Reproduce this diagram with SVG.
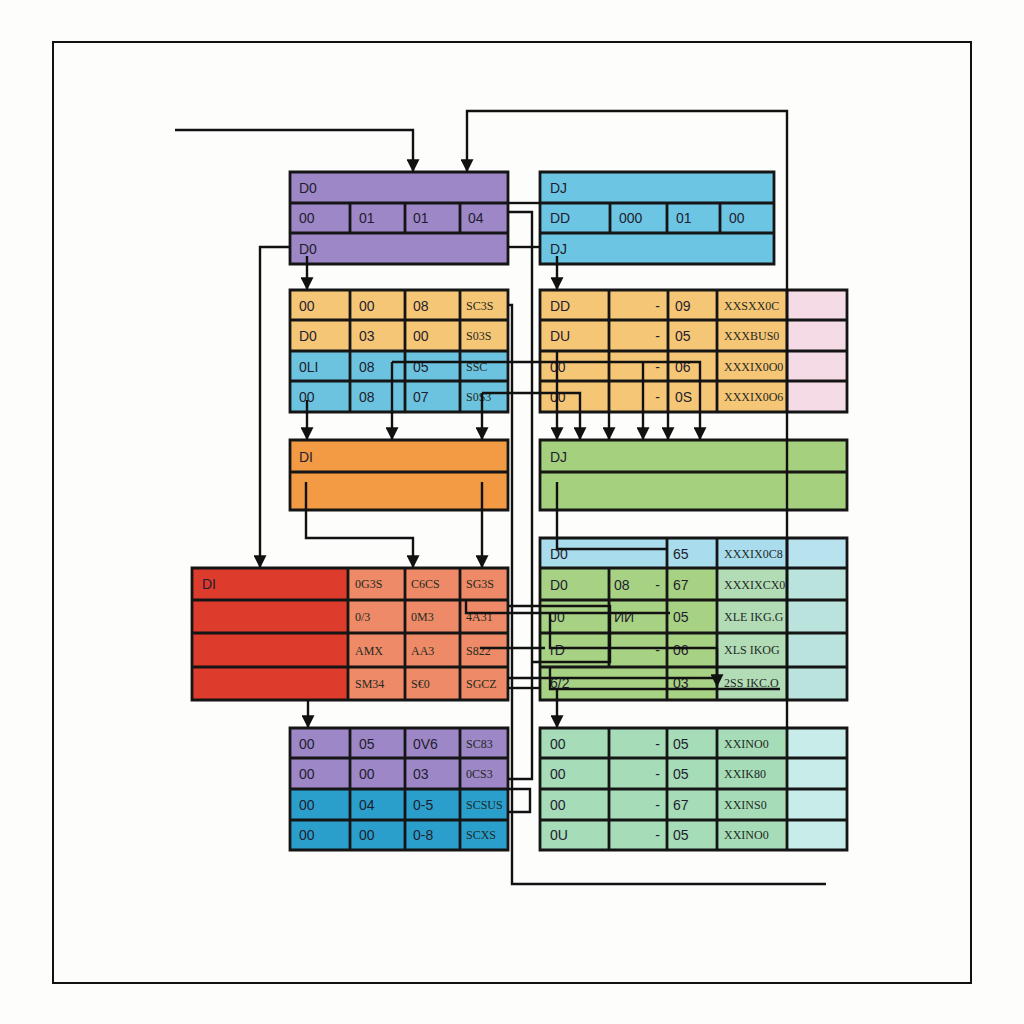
<svg xmlns="http://www.w3.org/2000/svg" width="1024" height="1024" viewBox="0 0 1024 1024">
<defs>
<style>
.g{stroke:#151515;stroke-width:2.8;fill:none}
.t{font-family:"Liberation Sans",Arial,sans-serif;font-size:14px;fill:#1f1d2e}
.s{font-family:"Liberation Serif","Times New Roman",serif;font-size:12px;fill:#1e2a1e}
.c{fill:none;stroke:#111;stroke-width:2.4}
.a{marker-end:url(#arr)}
</style>
<marker id="arr" viewBox="0 0 10 10" refX="9" refY="5" markerWidth="13" markerHeight="13" markerUnits="userSpaceOnUse" orient="auto">
<path d="M0,0 L10,5 L0,10 z" fill="#111"/>
</marker>
</defs>
<rect width="1024" height="1024" fill="#fdfdfc"/>
<rect x="53" y="42" width="918" height="941" fill="none" stroke="#111" stroke-width="2"/>

<g id="node-a">
<rect x="290" y="172" width="218" height="92" fill="#9d87c6"/>
<path class="g" d="M290,172H508V264H290Z M290,203H508 M290,233H508 M350,203V233 M405,203V233 M460,203V233"/>
<text class="t" x="299" y="193">D0</text>
<text class="t" x="299" y="223">00</text><text class="t" x="359" y="223">01</text><text class="t" x="413" y="223">01</text><text class="t" x="468" y="223">04</text>
<text class="t" x="299" y="254">D0</text>
</g>

<g id="node-b">
<rect x="540" y="172" width="234" height="92" fill="#6cc5e3"/>
<path class="g" d="M540,172H774V264H540Z M540,203H774 M540,233H774 M610,203V233 M667,203V233 M720,203V233"/>
<text class="t" x="550" y="193">DJ</text>
<text class="t" x="550" y="223">DD</text><text class="t" x="619" y="223">000</text><text class="t" x="676" y="223">01</text><text class="t" x="729" y="223">00</text>
<text class="t" x="550" y="254">DJ</text>
</g>

<g id="node-c">
<rect x="290" y="290" width="218" height="61" fill="#f6c677"/>
<rect x="290" y="351" width="218" height="61" fill="#6cc3df"/>
<path class="g" d="M290,290H508V412H290Z M290,320H508 M290,351H508 M290,381H508 M350,290V412 M405,290V412 M460,290V412"/>
<text class="t" x="299" y="311">00</text><text class="t" x="359" y="311">00</text><text class="t" x="413" y="311">08</text><text class="s" x="466" y="310">SC3S</text>
<text class="t" x="299" y="341">D0</text><text class="t" x="359" y="341">03</text><text class="t" x="413" y="341">00</text><text class="s" x="466" y="340">S03S</text>
<text class="t" x="299" y="372">0LI</text><text class="t" x="359" y="372">08</text><text class="t" x="413" y="372">05</text><text class="s" x="466" y="371">SSC</text>
<text class="t" x="299" y="402">00</text><text class="t" x="359" y="402">08</text><text class="t" x="413" y="402">07</text><text class="s" x="466" y="401">S0S3</text>
</g>

<g id="node-d">
<rect x="540" y="290" width="247" height="122" fill="#f6c677"/>
<rect x="787" y="290" width="60" height="122" fill="#f4dbe5"/>
<path class="g" d="M540,290H847V412H540Z M540,320H847 M540,351H847 M540,381H847 M609,290V412 M668,290V412 M717,290V412 M787,290V412"/>
<text class="t" x="550" y="311">DD</text><text class="t" x="660" y="311" text-anchor="end">-</text><text class="t" x="675" y="311">09</text><text class="s" x="724" y="310">XXSXX0C</text>
<text class="t" x="550" y="341">DU</text><text class="t" x="660" y="341" text-anchor="end">-</text><text class="t" x="675" y="341">05</text><text class="s" x="724" y="340">XXXBUS0</text>
<text class="t" x="550" y="372">00</text><text class="t" x="660" y="372" text-anchor="end">-</text><text class="t" x="675" y="372">06</text><text class="s" x="724" y="371">XXXIX0O0</text>
<text class="t" x="550" y="402">00</text><text class="t" x="660" y="402" text-anchor="end">-</text><text class="t" x="675" y="402">0S</text><text class="s" x="724" y="401">XXXIX0O6</text>
</g>

<g id="node-e">
<rect x="290" y="440" width="218" height="70" fill="#f39a45"/>
<path class="g" d="M290,440H508V510H290Z M290,472H508"/>
<text class="t" x="299" y="462">DI</text>
</g>

<g id="node-f">
<rect x="540" y="440" width="307" height="70" fill="#a5d17f"/>
<path class="g" d="M540,440H847V510H540Z M540,472H847"/>
<text class="t" x="550" y="462">DJ</text>
</g>

<g id="node-h">
<rect x="192" y="568" width="156" height="132" fill="#dd3c2c"/>
<rect x="348" y="568" width="160" height="132" fill="#ee8a68"/>
<path class="g" d="M192,568H508V700H192Z M192,600H508 M192,633H508 M192,667H508 M348,568V700 M405,568V700 M460,568V700"/>
<text class="t" x="202" y="589">DI</text>
<text class="s" x="355" y="588">0G3S</text><text class="s" x="411" y="588">C6CS</text><text class="s" x="466" y="588">SG3S</text>
<text class="s" x="355" y="621">0/3</text><text class="s" x="411" y="621">0M3</text><text class="s" x="466" y="621">4A31</text>
<text class="s" x="355" y="655">AMX</text><text class="s" x="411" y="655">AA3</text><text class="s" x="466" y="655">S822</text>
<text class="s" x="355" y="688">SM34</text><text class="s" x="411" y="688">S€0</text><text class="s" x="466" y="688">SGCZ</text>
</g>

<g id="node-g">
<rect x="540" y="538" width="247" height="30" fill="#a9dced"/>
<rect x="787" y="538" width="60" height="30" fill="#b9e2ef"/>
<rect x="540" y="568" width="177" height="132" fill="#a8d283"/>
<rect x="717" y="568" width="70" height="132" fill="#b2dcb6"/>
<rect x="787" y="568" width="60" height="132" fill="#b9e3dc"/>
<path class="g" d="M540,538H847V700H540Z M540,568H847 M540,600H847 M540,633H847 M540,667H847 M609,568V667 M667,538V700 M717,538V700 M787,538V700"/>
<text class="t" x="550" y="559">D0</text><text class="t" x="673" y="559">65</text><text class="s" x="724" y="558">XXXIX0C8</text>
<text class="t" x="550" y="590">D0</text><text class="t" x="614" y="590">08</text><text class="t" x="660" y="590" text-anchor="end">-</text><text class="t" x="673" y="590">67</text><text class="s" x="724" y="589">XXXIXCX0</text>
<text class="t" x="550" y="622">J0</text><text class="t" x="614" y="622">ИИ</text><text class="t" x="673" y="622">05</text><text class="s" x="724" y="621">XLE IKG.G</text>
<text class="t" x="550" y="655">rD</text><text class="t" x="660" y="655" text-anchor="end">-</text><text class="t" x="673" y="655">06</text><text class="s" x="724" y="654">XLS IKOG</text>
<text class="t" x="550" y="688">6/2</text><text class="t" x="673" y="688">03</text><text class="s" x="724" y="687">2SS IKC.O</text>
</g>

<g id="node-i">
<rect x="290" y="728" width="218" height="61" fill="#9d87c6"/>
<rect x="290" y="789" width="218" height="61" fill="#2b9fcc"/>
<path class="g" d="M290,728H508V850H290Z M290,758H508 M290,789H508 M290,820H508 M350,728V850 M405,728V850 M460,728V850"/>
<text class="t" x="299" y="749">00</text><text class="t" x="359" y="749">05</text><text class="t" x="413" y="749">0V6</text><text class="s" x="466" y="748">SC83</text>
<text class="t" x="299" y="779">00</text><text class="t" x="359" y="779">00</text><text class="t" x="413" y="779">03</text><text class="s" x="466" y="778">0CS3</text>
<text class="t" x="299" y="810">00</text><text class="t" x="359" y="810">04</text><text class="t" x="413" y="810">0-5</text><text class="s" x="466" y="809">SCSUS</text>
<text class="t" x="299" y="840">00</text><text class="t" x="359" y="840">00</text><text class="t" x="413" y="840">0-8</text><text class="s" x="466" y="839">SCXS</text>
</g>

<g id="node-j">
<rect x="540" y="728" width="247" height="122" fill="#a6dcb8"/>
<rect x="787" y="728" width="60" height="122" fill="#c8ecea"/>
<path class="g" d="M540,728H847V850H540Z M540,758H847 M540,789H847 M540,820H847 M609,728V850 M667,728V850 M717,728V850 M787,728V850"/>
<text class="t" x="550" y="749">00</text><text class="t" x="660" y="749" text-anchor="end">-</text><text class="t" x="673" y="749">05</text><text class="s" x="724" y="748">XXINO0</text>
<text class="t" x="550" y="779">00</text><text class="t" x="660" y="779" text-anchor="end">-</text><text class="t" x="673" y="779">05</text><text class="s" x="724" y="778">XXIK80</text>
<text class="t" x="550" y="810">00</text><text class="t" x="660" y="810" text-anchor="end">-</text><text class="t" x="673" y="810">67</text><text class="s" x="724" y="809">XXINS0</text>
<text class="t" x="550" y="840">0U</text><text class="t" x="660" y="840" text-anchor="end">-</text><text class="t" x="673" y="840">05</text><text class="s" x="724" y="839">XXINO0</text>
</g>

<g id="connectors">
<path class="c a" d="M175,130H413V171"/>
<path class="c a" d="M787,728V111H467V171"/>
<path class="c a" d="M290,247H260V567"/>
<path class="c a" d="M307,256V289"/>
<path class="c a" d="M557,256V289"/>
<path class="c" d="M508,203H540"/>
<path class="c" d="M508,247H540"/>
<path class="c" d="M508,212H532V779H508"/>
<path class="c" d="M508,789H530V812H508"/>
<path class="c" d="M508,305H512V884H826"/>
<path class="c a" d="M307,400V439"/>
<path class="c a" d="M392,362V439"/>
<path class="c a" d="M392,362H700V439"/>
<path class="c a" d="M482,393V439"/>
<path class="c a" d="M482,393H580V439"/>
<path class="c a" d="M557,350V439"/>
<path class="c a" d="M609,412V439"/>
<path class="c a" d="M643,362V439"/>
<path class="c a" d="M668,412V439"/>
<path class="c a" d="M306,482V538H413V567"/>
<path class="c a" d="M482,482V567"/>
<path class="c" d="M557,482V549H667"/>
<path class="c" d="M466,600V613H670"/>
<path class="c" d="M508,606H610V662H532"/>
<path class="c" d="M550,613V648H717"/>
<path class="c" d="M480,648H545"/>
<path class="c a" d="M717,648V686"/>
<path class="c" d="M508,678H715"/>
<path class="c" d="M508,688H540"/>
<path class="c" d="M550,668V689H780"/>
<path class="c a" d="M557,689V727"/>
<path class="c a" d="M308,700V727"/>
</g>
</svg>
